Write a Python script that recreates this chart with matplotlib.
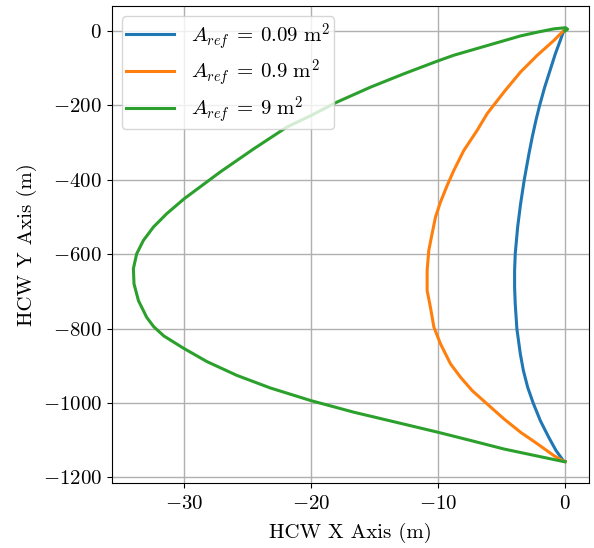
import matplotlib
matplotlib.use("Agg")
import matplotlib.pyplot as plt
from matplotlib.ticker import MultipleLocator

plt.rcParams['font.family'] = 'serif'
plt.rcParams['font.serif'] = ['cmr10']
plt.rcParams['mathtext.fontset'] = 'cm'
plt.rcParams['axes.formatter.use_mathtext'] = True
plt.rcParams['axes.unicode_minus'] = True

# Series (HCW x, HCW y in metres)
blue_x = [0.0, -0.11, -0.37, -0.76, -1.18, -1.6, -2.0, -2.29, -2.58, -2.84, -3.21, -3.5, -3.73,
          -3.92, -3.97, -3.97, -3.92, -3.79, -3.52, -3.28, -2.94, -2.5, -1.94, -1.29, -0.71,
          -0.1, 0.0]
blue_y = [6, 0, -25, -61, -106, -151, -200, -240, -285, -330, -400, -465, -527,
          -599, -644, -689, -734, -801, -868, -913, -958, -1001, -1048, -1092, -1128,
          -1157, -1158]

orange_x = [0.05, -0.08, -0.87, -2.18, -3.5, -4.81, -6.13, -6.92, -7.97, -8.76, -9.28, -9.81,
            -10.2, -10.47, -10.73, -10.86, -10.86, -10.6, -10.33, -9.81, -9.02, -8.23, -7.31,
            -6.13, -4.81, -3.5, -2.18, -0.87, -0.21, 0.0]
orange_y = [6, 2, -25, -65, -110, -164, -222, -267, -321, -375, -415, -460,
            -500, -545, -590, -644, -698, -743, -796, -841, -895, -931, -967,
            -1003, -1043, -1079, -1110, -1142, -1155, -1158]

green_x = [0.0, 0.2, 0.05, -0.87, -2.18, -3.5, -6.13, -8.76, -10.07, -12.7, -15.33, -17.96,
           -20.0, -21.9, -24.53, -27.16, -30.0, -31.37, -32.42, -33.21, -33.74, -34.0, -33.95,
           -33.6, -32.95, -32.4, -31.6, -30.1, -28.2, -25.85, -23.2, -20.0, -16.64, -12.7, -10.0,
           -7.44, -4.81, -2.18, -0.08, 0.0]
green_y = [0, 5, 9, 6, -3, -13, -39, -65, -81, -115, -151, -191,
           -227, -258, -317, -379, -451, -491, -527, -563, -599, -639, -680,
           -725, -770, -795, -820, -852, -889, -926, -960, -994, -1025, -1057, -1079,
           -1101, -1124, -1143, -1158, -1158]

labels = [r'$A_{ref} \:=\: 0.09\ \mathrm{m}^2$',
          r'$A_{ref} \:=\: 0.9\ \mathrm{m}^2$',
          r'$A_{ref} \:=\: 9\ \mathrm{m}^2$']

fig = plt.figure(figsize=(5.94, 5.48), dpi=100)
ax = fig.add_axes([0.188, 0.118, 0.804, 0.871])

ax.plot(blue_x, blue_y, color='#1f77b4', lw=2.2, label=labels[0])
ax.plot(orange_x, orange_y, color='#ff7f0e', lw=2.2, label=labels[1])
ax.plot(green_x, green_y, color='#2ca02c', lw=2.2, label=labels[2])

ax.xaxis.set_major_locator(MultipleLocator(10))
ax.grid(True, color='#b0b0b0', lw=1.0)
ax.set_axisbelow(True)
ax.tick_params(labelsize=15)
ax.tick_params(axis='x', pad=5)
ax.set_xlabel('HCW X Axis (m)', fontsize=15, labelpad=7)
ax.set_ylabel('HCW Y Axis (m)', fontsize=15)
ax.legend(loc='upper left', fontsize=15, handlelength=2.3, labelspacing=0.28,
          borderpad=0.2)

fig.savefig('out.png', dpi=100)
